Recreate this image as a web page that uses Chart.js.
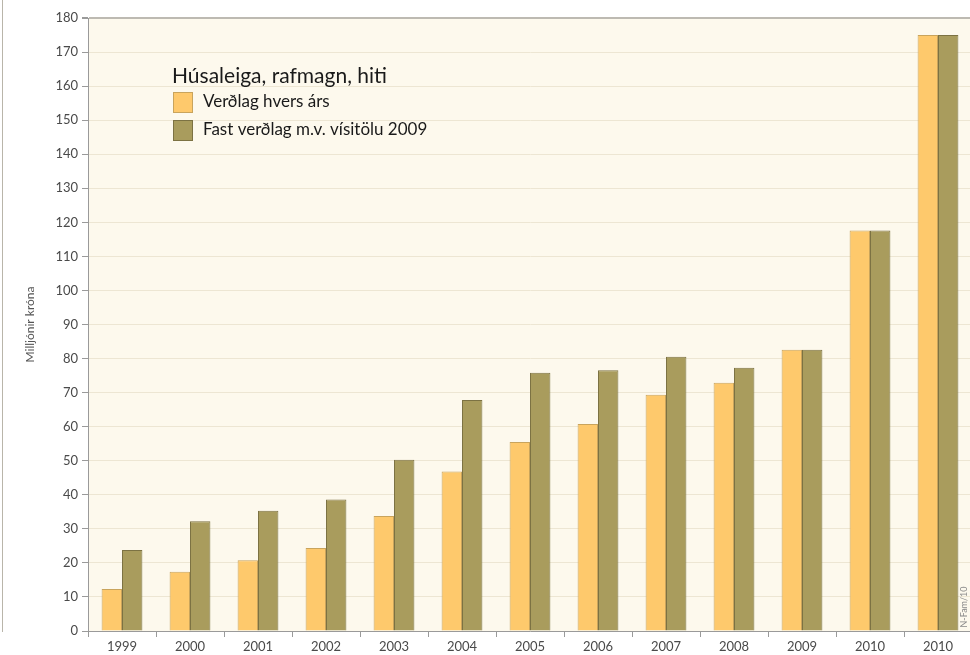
<!DOCTYPE html>
<html>
<head>
<meta charset="utf-8">
<script src="https://cdn.jsdelivr.net/npm/chart.js@4"></script>
<style>
  html, body { margin: 0; padding: 0; background: #fff; overflow: hidden; }
  #wrap { position: absolute; left: 0; top: 0; width: 976px; height: 655px; }
  #edge { position: absolute; left: 2px; top: 0; width: 1px; height: 632px; background: #b9b5aa; }
</style>
</head>
<body>
<div id="edge"></div>
<div id="wrap"><canvas id="myChart" width="976" height="655"></canvas></div>
<script>
// data
const years = ["1999", "2000", "2001", "2002", "2003", "2004", "2005", "2006", "2007", "2008", "2009", "2010", "2010"];
const verdlagHversArs = [12.3, 17.4, 20.8, 24.4, 33.8, 46.8, 55.5, 60.8, 69.4, 72.9, 82.6, 117.6, 175];
const fastVerdlag = [23.8, 32.2, 35.3, 38.6, 50.3, 67.8, 75.8, 76.6, 80.5, 77.3, 82.6, 117.6, 175];
const yTicks = [0, 10, 20, 30, 40, 50, 60, 70, 80, 90, 100, 110, 120, 130, 140, 150, 160, 170, 180];

const legendTitle = "Húsaleiga, rafmagn, hiti";
const seriesNames = ["Verðlag hvers árs", "Fast verðlag m.v. vísitölu 2009"];
const fillColors = ["#fec96c", "#a99c5d"];
const edgeColors = ["#c9a45c", "#7c7243"];

const font = "Lato, 'Open Sans', sans-serif";

// cream plot background
const plotBg = {
  id: "plotBg",
  beforeDraw(chart) {
    const a = chart.chartArea;
    const ctx = chart.ctx;
    ctx.save();
    ctx.fillStyle = "#fdf9ed";
    ctx.fillRect(a.left, a.top, a.right - a.left, a.bottom - a.top);
    ctx.restore();
  }
};

// legend drawn inside the plot, plus the small credit text
const innerLegend = {
  id: "innerLegend",
  afterDraw(chart) {
    const ctx = chart.ctx;
    ctx.save();
    ctx.textBaseline = "middle";
    ctx.fillStyle = "#1a1a1a";
    ctx.font = "21px " + font;
    ctx.fillText(legendTitle, 172, 76);
    chart.data.datasets.forEach((ds, i) => {
      const y = 92 + i * 28;
      ctx.fillStyle = ds.backgroundColor;
      ctx.fillRect(173, y, 19, 20);
      ctx.strokeStyle = ds.borderColor;
      ctx.lineWidth = 1;
      ctx.strokeRect(173.5, y + 0.5, 19, 20);
      ctx.fillStyle = "#1a1a1a";
      ctx.font = "17px " + font;
      ctx.fillText(ds.label, 203, y + 10);
    });
    ctx.translate(964, 607);
    ctx.rotate(-Math.PI / 2);
    ctx.font = "9px " + font;
    ctx.fillStyle = "#8a8a8a";
    ctx.textAlign = "center";
    ctx.fillText("N-Fam/10", 0, 0);
    ctx.restore();
  }
};

new Chart("myChart", {
  type: "bar",
  data: {
    labels: years,
    datasets: [
      {
        label: seriesNames[0],
        data: verdlagHversArs,
        backgroundColor: fillColors[0],
        borderColor: edgeColors[0],
        borderWidth: 1,
      },
      {
        label: seriesNames[1],
        data: fastVerdlag,
        backgroundColor: fillColors[1],
        borderColor: edgeColors[1],
        borderWidth: 1,
      },
    ],
  },
  options: {
    responsive: false,
    animation: false,
    layout: { padding: { top: 18, right: 4, left: 0, bottom: 0 } },
    plugins: {
      legend: { display: false },
      tooltip: { enabled: false },
    },
    datasets: {
      bar: { categoryPercentage: 0.6, barPercentage: 1 },
    },
    scales: {
      x: {
        grid: {
          drawOnChartArea: false,
          drawTicks: true,
          tickLength: 6,
          tickColor: "#9a9a9a",
        },
        border: { color: "#9a9a9a", width: 1 },
        ticks: {
          color: "#4a4a4a",
          font: { family: font, size: 13 },
          padding: 2,
        },
        afterFit(s) { s.height = 24; },
      },
      y: {
        min: 0,
        max: 180,
        afterBuildTicks(s) { s.ticks = yTicks.map(v => ({ value: v })); },
        grid: {
          color: (c) => (c.tick && c.tick.value === 180 ? "#bdbab2" : "#ede6d3"),
          lineWidth: (c) => (c.tick && c.tick.value === 180 ? 2 : 1),
          tickColor: "#9a9a9a",
          tickLength: 6,
        },
        border: { color: "#9a9a9a", width: 1 },
        ticks: {
          color: "#4a4a4a",
          font: { family: font, size: 13 },
          padding: 4,
        },
        title: {
          display: true,
          text: "Milljónir króna",
          color: "#555",
          font: { family: font, size: 12 },
          padding: { top: 23, bottom: 0 },
        },
        afterFit(s) { s.width = 88; },
      },
    },
  },
  plugins: [plotBg, innerLegend],
});
</script>
</body>
</html>
